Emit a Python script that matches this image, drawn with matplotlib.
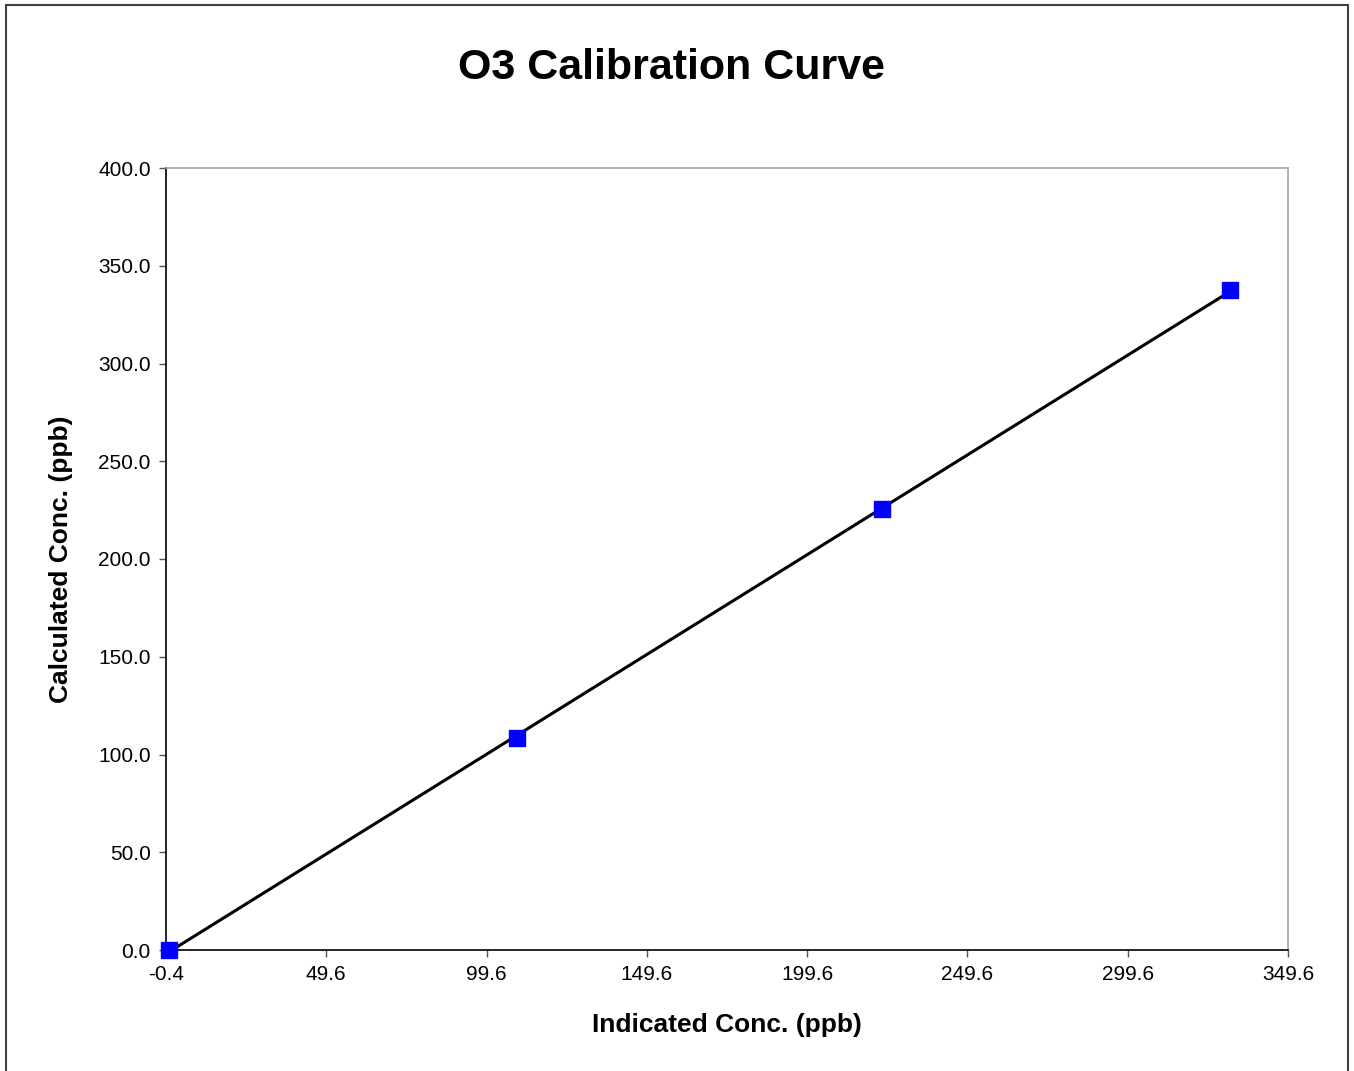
import numpy as np
import matplotlib.pyplot as plt
from matplotlib import ticker
from matplotlib.patches import Rectangle

# readings
indicated = [0.5, 109.0, 222.8, 331.6]
calculated = [0.0, 108.3, 225.7, 337.5]
x_ticks = [-0.4, 49.6, 99.6, 149.6, 199.6, 249.6, 299.6, 349.6]
y_ticks = [0, 50, 100, 150, 200, 250, 300, 350, 400]

plt.rcParams['font.family'] = ['Liberation Sans', 'DejaVu Sans']

fig = plt.figure(figsize=(13.54, 10.71), dpi=100)
ax = fig.add_axes([166 / 1354, 1 - 950 / 1071, (1288 - 166) / 1354, (950 - 168) / 1071])

# linear trendline
m, b = np.polyfit(indicated, calculated, 1)
xs = np.array([indicated[0], indicated[-1]])
ax.plot(xs, m * xs + b, color='black', lw=2.2, zorder=2)
ax.plot(indicated, calculated, ls='none', marker='s', ms=11, color='#0000FF',
        mec='#0000FF', zorder=3, clip_on=False)

ax.set_xlim(x_ticks[0], x_ticks[-1])
ax.set_ylim(y_ticks[0], y_ticks[-1])
ax.set_xticks(x_ticks)
ax.set_yticks(y_ticks)
ax.xaxis.set_major_formatter(ticker.FuncFormatter(lambda v, p: f'{v:.1f}'))
ax.yaxis.set_major_formatter(ticker.FuncFormatter(lambda v, p: f'{v:.1f}'))
ax.tick_params(direction='out', length=5, width=1, labelsize=15, color='#555555', pad=6)

ax.spines['left'].set_color('black')
ax.spines['bottom'].set_color('black')
ax.spines['top'].set_color('#a6a6a6')
ax.spines['right'].set_color('#a6a6a6')
for s in ax.spines.values():
    s.set_linewidth(1.2)

ax.set_xlabel('Indicated Conc. (ppb)', fontsize=19, fontweight='bold', labelpad=21)
ax.set_ylabel('Calculated Conc. (ppb)', fontsize=19, fontweight='bold', labelpad=18)
fig.text(672 / 1354, 1 - 68 / 1071, 'O3 Calibration Curve', fontsize=31,
         fontweight='bold', ha='center', va='center')

# outer chart border
fig.patches.append(Rectangle((6 / 1354, -0.05), (1348 - 6) / 1354, 1.05 - 5 / 1071,
                             transform=fig.transFigure, fill=False,
                             edgecolor='#404040', lw=1.5))

fig.savefig('out.png', dpi=100)
